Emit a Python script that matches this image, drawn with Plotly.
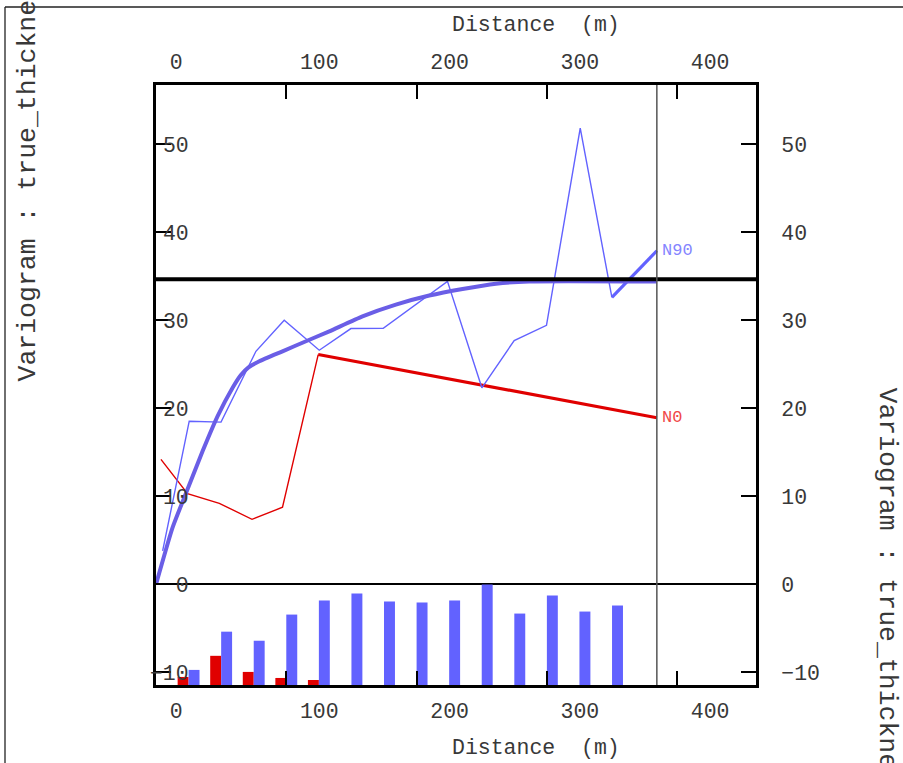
import plotly.graph_objects as go

# ---- experimental variograms (lag distance in m, gamma) ----
n90_dist = [5.1, 25.5, 49.9, 76.7, 98.4, 125.3, 149.6, 174.4, 223.7, 250.1,
            274.9, 299.7, 325.6, 349.9, 384.4]
n90_gamma = [3.80, 18.54, 18.43, 26.48, 30.00, 26.60, 29.06, 29.09, 34.42, 22.33,
             27.70, 29.43, 51.82, 32.61, 37.90]

n0_dist = [3.8, 24.2, 48.6, 73.7, 97.1, 124.5, 384.4]
n0_gamma = [14.20, 10.31, 9.21, 7.39, 8.76, 26.11, 18.93]

# ---- fitted model ----
model_dist = [0, 12.7, 24.2, 35.8, 47.3, 58.8, 65.0, 71.0, 79.3, 97.1, 115.1, 133.0,
              158.5, 184.1, 209.7, 235.3, 260.9, 286.4, 384.4]
model_gamma = [0, 6.45, 10.80, 15.14, 19.11, 22.33, 23.75, 24.65, 25.35, 26.48, 27.62,
               28.75, 30.45, 31.78, 32.81, 33.56, 34.16, 34.42, 34.42]
sill = 34.65

# ---- number of pairs per lag (relative) ----
lag_n90 = [25, 50, 75, 100, 125, 150, 175, 200, 225, 250, 275, 300, 325, 350]
npairs_n90 = [15, 53, 44, 70, 84, 91, 83, 82, 84, 100, 71, 89, 73, 79]
lag_n0 = [25, 50, 75, 100, 125]
npairs_n0 = [8, 29, 13, 7, 5]

# ---- axes ----
x_range = [0, 460.5]
y_range = [-11.43, 56.73]
x_ticks = [0, 100, 200, 300, 400]
x_ticktext = ["0\u00a0\u00a0", "100", "200", "300", "400"]
y_ticks = [-10, 0, 10, 20, 30, 40, 50]

BLUE = "#6262ff"
MODEL = "#6a5ee6"
RED = "#e00000"
FONT = "Liberation Mono, Courier New, monospace"
TEXT = "#383838"

fig = go.Figure()

# pair-count histogram sitting on the bottom of the frame
pmax = max(npairs_n90 + npairs_n0)
scale = (0 - y_range[0]) / pmax
fig.add_trace(go.Bar(x=lag_n0, y=[n * scale for n in npairs_n0], base=y_range[0],
                     width=8.4, offset=-8.4, marker=dict(color=RED, line_width=0),
                     showlegend=False, hoverinfo="skip"))
fig.add_trace(go.Bar(x=lag_n90, y=[n * scale for n in npairs_n90], base=y_range[0],
                     width=8.4, offset=0, marker=dict(color=BLUE, line_width=0),
                     showlegend=False, hoverinfo="skip"))

# experimental curves: thin up to the last lag, heavier last segment
for d, g, col in [(n0_dist, n0_gamma, RED), (n90_dist, n90_gamma, BLUE)]:
    fig.add_trace(go.Scatter(x=d[:-1], y=g[:-1], mode="lines",
                             line=dict(color=col, width=1.4),
                             showlegend=False, hoverinfo="skip"))
    fig.add_trace(go.Scatter(x=d[-2:], y=g[-2:], mode="lines",
                             line=dict(color=col, width=3.2),
                             showlegend=False, hoverinfo="skip"))

# sill (on the mirrored axes so the top/right axes get drawn)
fig.add_trace(go.Scatter(x=[x_range[0], x_range[1]], y=[sill, sill], mode="lines",
                         line=dict(color="black", width=4),
                         xaxis="x2", yaxis="y2", showlegend=False, hoverinfo="skip"))

# model
fig.add_trace(go.Scatter(x=model_dist, y=model_gamma, mode="lines",
                         line=dict(color=MODEL, width=4, shape="spline", smoothing=0.5),
                         showlegend=False, hoverinfo="skip"))

# direction labels at the end of each experimental curve
fig.add_annotation(x=n90_dist[-1], y=n90_gamma[-1], text="N90", showarrow=False,
                   xanchor="left", yanchor="middle", xshift=3,
                   font=dict(family=FONT, size=17, color="#8585ff"))
fig.add_annotation(x=n0_dist[-1], y=n0_gamma[-1], text="N0", showarrow=False,
                   xanchor="left", yanchor="middle", xshift=3,
                   font=dict(family=FONT, size=17, color="#f04848"))

# maximum distance marker
fig.add_shape(type="line", xref="x", yref="paper", x0=n90_dist[-1], x1=n90_dist[-1],
              y0=0, y1=1, line=dict(color="#555555", width=1.5))

# figure geometry
W, H = 903, 763
L, T, PW, PH = 156, 85, 600, 600
R, B = W - L - PW, H - T - PH


def px(xp):
    return (xp - L) / PW


def py(yp):
    return (T + PH - yp) / PH


# outer border (top and left edges)
fig.add_shape(type="line", xref="paper", yref="paper", x0=px(5), x1=px(910),
              y0=py(7), y1=py(7), line=dict(color="#222222", width=1.3))
fig.add_shape(type="line", xref="paper", yref="paper", x0=px(5), x1=px(5),
              y0=py(7), y1=py(780), line=dict(color="#222222", width=1.3))

# axis titles
title_font = dict(family=FONT, size=21.5, color=TEXT)
side_font = dict(family=FONT, size=26.5, color=TEXT)
fig.add_annotation(xref="paper", yref="paper", x=px(535.5), y=py(748), text="Distance  (m)",
                   showarrow=False, xanchor="center", yanchor="middle", font=title_font)
fig.add_annotation(xref="paper", yref="paper", x=px(535.5), y=py(25), text="Distance  (m)",
                   showarrow=False, xanchor="center", yanchor="middle", font=title_font)
fig.add_annotation(xref="paper", yref="paper", x=px(27), y=py(384),
                   text="Variogram : true_thickness", textangle=-90,
                   showarrow=False, xanchor="center", yanchor="bottom", font=side_font)
fig.add_annotation(xref="paper", yref="paper", x=px(887), y=py(385),
                   text="Variogram : true_thickness", textangle=90,
                   showarrow=False, xanchor="center", yanchor="top", font=side_font)

tick_font = dict(family=FONT, size=21.5, color=TEXT)
common_x = dict(range=x_range, tickmode="array", tickvals=x_ticks, ticktext=x_ticktext,
                ticks="inside", ticklen=14, tickwidth=1.5, tickcolor="black",
                showline=True, linewidth=3, linecolor="black", showgrid=False,
                zeroline=False, tickfont=tick_font, ticklabelshift=33,
                ticklabelstandoff=4, fixedrange=True)
common_y = dict(range=y_range, tickmode="array", tickvals=y_ticks,
                ticks="inside", ticklen=15, tickwidth=1.5, tickcolor="black",
                showline=True, linewidth=3, linecolor="black", showgrid=False,
                tickfont=tick_font, fixedrange=True, ticklabelposition="outside")

fig.update_layout(
    width=W, height=H,
    margin=dict(l=L, r=R, t=T, b=B, pad=0),
    paper_bgcolor="white", plot_bgcolor="white",
    barmode="overlay", showlegend=False,
    xaxis=dict(**common_x, side="bottom", anchor="y"),
    xaxis2=dict(**common_x, side="top", overlaying="x", anchor="y"),
    yaxis=dict(**common_y, side="left", anchor="x", ticklabelstandoff=-40,
               zeroline=True, zerolinecolor="black", zerolinewidth=1.5),
    yaxis2=dict(**common_y, side="right", overlaying="y", anchor="x",
                ticklabelstandoff=18, zeroline=False),
)

fig.write_html("out.html")
